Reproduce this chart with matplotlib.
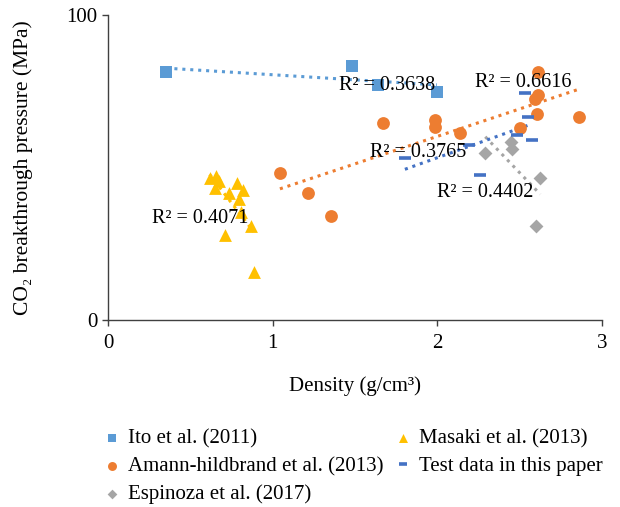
import numpy as np
import matplotlib
matplotlib.use("Agg")
import matplotlib.pyplot as plt

# data (density g/cm3, pressure MPa)
ito_x = [0.355, 1.484, 1.642, 1.997]
ito_y = [81.4, 83.4, 77.0, 74.9]

amann_x = [1.044, 1.212, 1.354, 1.668, 1.987, 1.987, 2.135, 2.499, 2.611, 2.611, 2.591, 2.605, 2.862]
amann_y = [48.1, 41.7, 34.1, 64.5, 65.6, 63.4, 61.2, 63.1, 81.4, 73.8, 72.5, 67.5, 66.7]

esp_x = [2.291, 2.447, 2.453, 2.625, 2.599]
esp_y = [54.6, 58.3, 56.1, 46.4, 30.8]

masaki_x = [0.617, 0.654, 0.674, 0.650, 0.733, 0.781, 0.818, 0.794, 0.810, 0.868, 0.709, 0.885]
masaki_y = [46.5, 47.2, 45.7, 43.2, 41.5, 44.8, 42.6, 39.6, 35.5, 30.8, 27.9, 15.8]

test_x = [1.803, 2.194, 2.262, 2.535, 2.548, 2.482, 2.572]
test_y = [53.1, 57.5, 47.5, 74.4, 66.7, 60.5, 59.0]

r2_labels = ["R² = 0.3638", "R² = 0.6616", "R² = 0.3765", "R² = 0.4402", "R² = 0.4071"]
r2_pos = [(1.40, 77.0), (2.23, 78.0), (1.59, 54.8), (2.0, 41.8), (0.27, 33.4)]

SERIF = ["Liberation Serif", "DejaVu Serif"]
plt.rcParams["font.family"] = SERIF

fig = plt.figure(figsize=(6.2, 5.07), dpi=100)
ax = fig.add_axes([108 / 620, 1 - 320 / 507, 494 / 620, 305 / 507])

series = [
    (ito_x, ito_y, "#5B9BD5", "s", 85, "Ito et al. (2011)"),
    (amann_x, amann_y, "#ED7D31", "o", 85, "Amann-hildbrand et al. (2013)"),
    (esp_x, esp_y, "#A5A5A5", "D", 50, "Espinoza et al. (2017)"),
    (masaki_x, masaki_y, "#FFC000", "^", 85, "Masaki et al. (2013)"),
]

handles = []
for x, y, c, m, s, lab in series:
    h = ax.scatter(x, y, s=s, marker=m, color=c, linewidths=0, label=lab, zorder=3)
    handles.append(h)

h_test, = ax.plot(test_x, test_y, ls="none", marker="_", ms=9, mew=2.6,
                  color="#4472C4", label="Test data in this paper", zorder=3)

# linear trendlines over each data range
for x, y, c in [(ito_x, ito_y, "#5B9BD5"), (amann_x, amann_y, "#ED7D31"),
                (esp_x, esp_y, "#A5A5A5"), (masaki_x, masaki_y, "#FFC000"),
                (test_x, test_y, "#4472C4")]:
    k, b = np.polyfit(x, y, 1)
    xx = np.array([min(x), max(x)])
    ax.plot(xx, k * xx + b, ls=(0, (1, 1.6)), lw=2.2, color=c, zorder=2)

for lab, (tx, ty) in zip(r2_labels, r2_pos):
    ax.text(tx, ty, lab, fontsize=14.5, va="center", ha="left", zorder=4)

ax.set_xlim(0, 3)
ax.set_ylim(0, 100)
ax.set_xticks([0, 1, 2, 3])
ax.set_yticks([0, 100])
ax.tick_params(labelsize=15, length=4, width=1, color="#404040")
ax.tick_params(axis="x", pad=6)
for sp in ["top", "right"]:
    ax.spines[sp].set_visible(False)
for sp in ["left", "bottom"]:
    ax.spines[sp].set_color("#404040")
    ax.spines[sp].set_linewidth(1)

ax.set_xlabel("Density (g/cm³)", fontsize=15, labelpad=17)
ax.set_ylabel("CO₂ breakthrough pressure (MPa)", fontsize=15.5, labelpad=24)

leg_handles = [handles[0], handles[1], handles[2], handles[3], h_test]
fig.legend(handles=leg_handles, loc="upper left", bbox_to_anchor=(95 / 620, 1 - 421 / 507),
           ncol=2, frameon=False, fontsize=15, handlelength=0.8, handletextpad=0.4,
           columnspacing=0.5, labelspacing=0.38, borderaxespad=0, markerscale=0.7)

fig.savefig("out.png", dpi=100)
